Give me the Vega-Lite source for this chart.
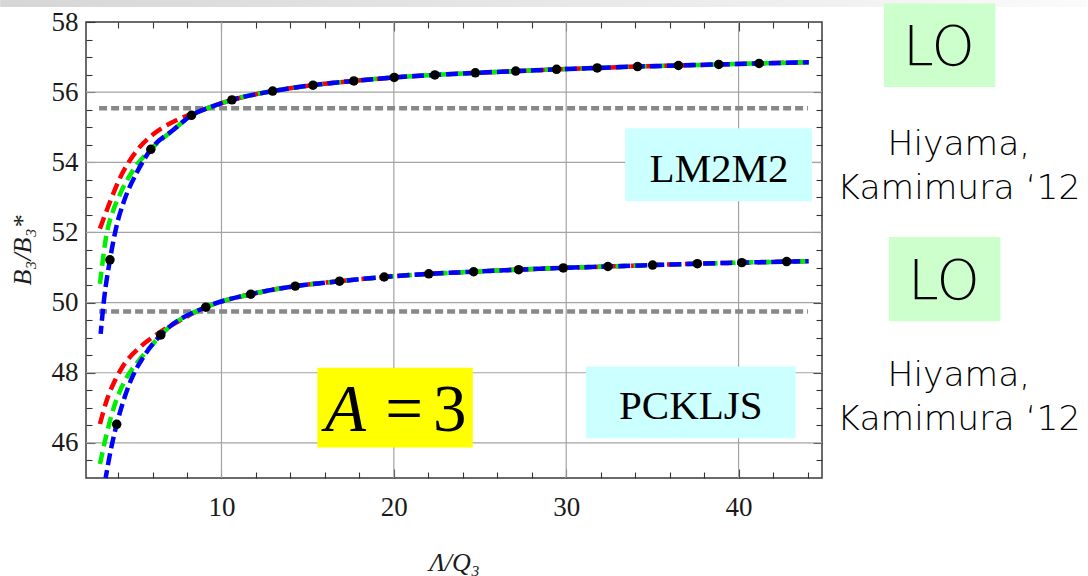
{
  "$schema": "https://vega.github.io/schema/vega-lite/v6.json",
  "width": 736,
  "height": 456,
  "autosize": {"type": "none"},
  "padding": {"left": 86, "top": 22, "right": 266, "bottom": 98},
  "background": "white",
  "config": {
    "view": {"stroke": "#3a3a3a", "strokeWidth": 1.5},
    "axis": {"domain": false, "grid": false, "tickColor": "#333333", "tickWidth": 1.1}
  },
  "datasets": {
    "gx": [{"x": 10}, {"x": 20}, {"x": 30}, {"x": 40}],
    "gy": [{"y": 46}, {"y": 48}, {"y": 50}, {"y": 52}, {"y": 54}, {"y": 56}],
    "ref": [
      {"model": "LM2M2", "x": 2.9, "x2": 44.03, "y": 55.54},
      {"model": "PCKLJS", "x": 2.9, "x2": 44.03, "y": 49.75}
    ],
    "red": [
      {"model": "LM2M2", "x": 2.95, "y": 52.11}, {"model": "LM2M2", "x": 3.58, "y": 52.93}, {"model": "LM2M2", "x": 4.11, "y": 53.55},
      {"model": "LM2M2", "x": 5.08, "y": 54.33}, {"model": "LM2M2", "x": 6.04, "y": 54.8}, {"model": "LM2M2", "x": 7.39, "y": 55.2},
      {"model": "LM2M2", "x": 8.74, "y": 55.46}, {"model": "LM2M2", "x": 10.61, "y": 55.78}, {"model": "LM2M2", "x": 12.97, "y": 56.03},
      {"model": "LM2M2", "x": 15.31, "y": 56.2}, {"model": "LM2M2", "x": 17.68, "y": 56.32}, {"model": "LM2M2", "x": 20.02, "y": 56.42},
      {"model": "LM2M2", "x": 22.38, "y": 56.49}, {"model": "LM2M2", "x": 24.73, "y": 56.55}, {"model": "LM2M2", "x": 27.07, "y": 56.6},
      {"model": "LM2M2", "x": 29.44, "y": 56.65}, {"model": "LM2M2", "x": 31.8, "y": 56.69}, {"model": "LM2M2", "x": 34.14, "y": 56.73},
      {"model": "LM2M2", "x": 36.51, "y": 56.76}, {"model": "LM2M2", "x": 38.85, "y": 56.79}, {"model": "LM2M2", "x": 41.19, "y": 56.82},
      {"model": "LM2M2", "x": 44.07, "y": 56.85},
      {"model": "PCKLJS", "x": 2.95, "y": 46.54}, {"model": "PCKLJS", "x": 3.34, "y": 47.21}, {"model": "PCKLJS", "x": 3.82, "y": 47.78},
      {"model": "PCKLJS", "x": 4.3, "y": 48.2}, {"model": "PCKLJS", "x": 5.27, "y": 48.73}, {"model": "PCKLJS", "x": 6.23, "y": 49.09},
      {"model": "PCKLJS", "x": 7.58, "y": 49.49}, {"model": "PCKLJS", "x": 9.09, "y": 49.87}, {"model": "PCKLJS", "x": 11.7, "y": 50.24},
      {"model": "PCKLJS", "x": 14.28, "y": 50.47}, {"model": "PCKLJS", "x": 16.85, "y": 50.61}, {"model": "PCKLJS", "x": 19.44, "y": 50.73},
      {"model": "PCKLJS", "x": 22.03, "y": 50.82}, {"model": "PCKLJS", "x": 24.63, "y": 50.88}, {"model": "PCKLJS", "x": 27.24, "y": 50.94},
      {"model": "PCKLJS", "x": 29.83, "y": 50.99}, {"model": "PCKLJS", "x": 32.42, "y": 51.03}, {"model": "PCKLJS", "x": 35.01, "y": 51.07},
      {"model": "PCKLJS", "x": 37.61, "y": 51.11}, {"model": "PCKLJS", "x": 40.19, "y": 51.14}, {"model": "PCKLJS", "x": 42.79, "y": 51.17},
      {"model": "PCKLJS", "x": 44.07, "y": 51.18}
    ],
    "green": [
      {"model": "LM2M2", "x": 2.95, "y": 50.54}, {"model": "LM2M2", "x": 3.34, "y": 51.97}, {"model": "LM2M2", "x": 3.7, "y": 52.6},
      {"model": "LM2M2", "x": 4.1, "y": 53.08}, {"model": "LM2M2", "x": 4.88, "y": 53.78}, {"model": "LM2M2", "x": 5.9, "y": 54.37},
      {"model": "LM2M2", "x": 7.2, "y": 54.92}, {"model": "LM2M2", "x": 8.26, "y": 55.34}, {"model": "LM2M2", "x": 9.51, "y": 55.6},
      {"model": "LM2M2", "x": 10.61, "y": 55.78}, {"model": "LM2M2", "x": 12.97, "y": 56.03},
      {"model": "LM2M2", "x": 15.31, "y": 56.2}, {"model": "LM2M2", "x": 17.68, "y": 56.32}, {"model": "LM2M2", "x": 20.02, "y": 56.42},
      {"model": "LM2M2", "x": 22.38, "y": 56.49}, {"model": "LM2M2", "x": 24.73, "y": 56.55}, {"model": "LM2M2", "x": 27.07, "y": 56.6},
      {"model": "LM2M2", "x": 29.44, "y": 56.65}, {"model": "LM2M2", "x": 31.8, "y": 56.69}, {"model": "LM2M2", "x": 34.14, "y": 56.73},
      {"model": "LM2M2", "x": 36.51, "y": 56.76}, {"model": "LM2M2", "x": 38.85, "y": 56.79}, {"model": "LM2M2", "x": 41.19, "y": 56.82},
      {"model": "LM2M2", "x": 44.07, "y": 56.85},
      {"model": "PCKLJS", "x": 2.95, "y": 45.4}, {"model": "PCKLJS", "x": 3.34, "y": 46.26}, {"model": "PCKLJS", "x": 3.82, "y": 47.11},
      {"model": "PCKLJS", "x": 4.4, "y": 47.78}, {"model": "PCKLJS", "x": 5.08, "y": 48.27}, {"model": "PCKLJS", "x": 5.85, "y": 48.72},
      {"model": "PCKLJS", "x": 6.48, "y": 49.08}, {"model": "PCKLJS", "x": 9.09, "y": 49.87}, {"model": "PCKLJS", "x": 11.7, "y": 50.24},
      {"model": "PCKLJS", "x": 14.28, "y": 50.47}, {"model": "PCKLJS", "x": 16.85, "y": 50.61}, {"model": "PCKLJS", "x": 19.44, "y": 50.73},
      {"model": "PCKLJS", "x": 22.03, "y": 50.82}, {"model": "PCKLJS", "x": 24.63, "y": 50.88}, {"model": "PCKLJS", "x": 27.24, "y": 50.94},
      {"model": "PCKLJS", "x": 29.83, "y": 50.99}, {"model": "PCKLJS", "x": 32.42, "y": 51.03}, {"model": "PCKLJS", "x": 35.01, "y": 51.07},
      {"model": "PCKLJS", "x": 37.61, "y": 51.11}, {"model": "PCKLJS", "x": 40.19, "y": 51.14}, {"model": "PCKLJS", "x": 42.79, "y": 51.17},
      {"model": "PCKLJS", "x": 44.07, "y": 51.18}
    ],
    "blue": [
      {"model": "LM2M2", "x": 2.99, "y": 49.11}, {"model": "LM2M2", "x": 3.18, "y": 50.06}, {"model": "LM2M2", "x": 3.53, "y": 51.22},
      {"model": "LM2M2", "x": 3.92, "y": 52.2}, {"model": "LM2M2", "x": 4.35, "y": 52.9}, {"model": "LM2M2", "x": 5.08, "y": 53.7},
      {"model": "LM2M2", "x": 5.9, "y": 54.37}, {"model": "LM2M2", "x": 7.2, "y": 54.92}, {"model": "LM2M2", "x": 8.26, "y": 55.34},
      {"model": "LM2M2", "x": 9.51, "y": 55.6}, {"model": "LM2M2", "x": 10.61, "y": 55.78}, {"model": "LM2M2", "x": 12.97, "y": 56.03},
      {"model": "LM2M2", "x": 15.31, "y": 56.2}, {"model": "LM2M2", "x": 17.68, "y": 56.32}, {"model": "LM2M2", "x": 20.02, "y": 56.42},
      {"model": "LM2M2", "x": 22.38, "y": 56.49}, {"model": "LM2M2", "x": 24.73, "y": 56.55}, {"model": "LM2M2", "x": 27.07, "y": 56.6},
      {"model": "LM2M2", "x": 29.44, "y": 56.65}, {"model": "LM2M2", "x": 31.8, "y": 56.69}, {"model": "LM2M2", "x": 34.14, "y": 56.73},
      {"model": "LM2M2", "x": 36.51, "y": 56.76}, {"model": "LM2M2", "x": 38.85, "y": 56.79}, {"model": "LM2M2", "x": 41.19, "y": 56.82},
      {"model": "LM2M2", "x": 44.07, "y": 56.85},
      {"model": "PCKLJS", "x": 3.28, "y": 45.0}, {"model": "PCKLJS", "x": 3.53, "y": 45.68}, {"model": "PCKLJS", "x": 3.92, "y": 46.53},
      {"model": "PCKLJS", "x": 4.3, "y": 47.18}, {"model": "PCKLJS", "x": 4.79, "y": 47.84}, {"model": "PCKLJS", "x": 5.46, "y": 48.44},
      {"model": "PCKLJS", "x": 6.48, "y": 49.08}, {"model": "PCKLJS", "x": 9.09, "y": 49.87}, {"model": "PCKLJS", "x": 11.7, "y": 50.24},
      {"model": "PCKLJS", "x": 14.28, "y": 50.47}, {"model": "PCKLJS", "x": 16.85, "y": 50.61}, {"model": "PCKLJS", "x": 19.44, "y": 50.73},
      {"model": "PCKLJS", "x": 22.03, "y": 50.82}, {"model": "PCKLJS", "x": 24.63, "y": 50.88}, {"model": "PCKLJS", "x": 27.24, "y": 50.94},
      {"model": "PCKLJS", "x": 29.83, "y": 50.99}, {"model": "PCKLJS", "x": 32.42, "y": 51.03}, {"model": "PCKLJS", "x": 35.01, "y": 51.07},
      {"model": "PCKLJS", "x": 37.61, "y": 51.11}, {"model": "PCKLJS", "x": 40.19, "y": 51.14}, {"model": "PCKLJS", "x": 42.79, "y": 51.17},
      {"model": "PCKLJS", "x": 44.07, "y": 51.18}
    ],
    "dots": [
      {"model": "LM2M2", "x": 3.53, "y": 51.22}, {"model": "LM2M2", "x": 5.9, "y": 54.37}, {"model": "LM2M2", "x": 8.26, "y": 55.34},
      {"model": "LM2M2", "x": 10.61, "y": 55.78}, {"model": "LM2M2", "x": 12.97, "y": 56.03}, {"model": "LM2M2", "x": 15.31, "y": 56.2},
      {"model": "LM2M2", "x": 17.68, "y": 56.32}, {"model": "LM2M2", "x": 20.02, "y": 56.42}, {"model": "LM2M2", "x": 22.38, "y": 56.49},
      {"model": "LM2M2", "x": 24.73, "y": 56.55}, {"model": "LM2M2", "x": 27.07, "y": 56.6}, {"model": "LM2M2", "x": 29.44, "y": 56.65},
      {"model": "LM2M2", "x": 31.8, "y": 56.69}, {"model": "LM2M2", "x": 34.14, "y": 56.73}, {"model": "LM2M2", "x": 36.51, "y": 56.76},
      {"model": "LM2M2", "x": 38.85, "y": 56.79}, {"model": "LM2M2", "x": 41.19, "y": 56.82},
      {"model": "PCKLJS", "x": 3.92, "y": 46.53}, {"model": "PCKLJS", "x": 6.48, "y": 49.08}, {"model": "PCKLJS", "x": 9.09, "y": 49.87},
      {"model": "PCKLJS", "x": 11.7, "y": 50.24}, {"model": "PCKLJS", "x": 14.28, "y": 50.47}, {"model": "PCKLJS", "x": 16.85, "y": 50.61},
      {"model": "PCKLJS", "x": 19.44, "y": 50.73}, {"model": "PCKLJS", "x": 22.03, "y": 50.82}, {"model": "PCKLJS", "x": 24.63, "y": 50.88},
      {"model": "PCKLJS", "x": 27.24, "y": 50.94}, {"model": "PCKLJS", "x": 29.83, "y": 50.99}, {"model": "PCKLJS", "x": 32.42, "y": 51.03},
      {"model": "PCKLJS", "x": 35.01, "y": 51.07}, {"model": "PCKLJS", "x": 37.61, "y": 51.11}, {"model": "PCKLJS", "x": 40.19, "y": 51.14},
      {"model": "PCKLJS", "x": 42.79, "y": 51.17}
    ],
    "modelBoxes": [
      {"model": "LM2M2", "x": 33.42, "x2": 44.26, "y": 54.97, "y2": 52.89},
      {"model": "PCKLJS", "x": 31.14, "x2": 43.31, "y": 48.18, "y2": 46.13}
    ],
    "modelNames": [
      {"x": 38.87, "y": 53.43, "text": "LM2M2"},
      {"x": 37.23, "y": 46.68, "text": "PCKLJS"}
    ],
    "nucleusBox": [{"x": 15.56, "x2": 24.58, "y": 48.14, "y2": 45.87}],
    "nucleusA": [{"x": 17.2, "y": 46.35, "text": "A"}],
    "nucleusEq": [{"x": 20.6, "y": 46.35, "text": "="}, {"x": 23.25, "y": 46.35, "text": "3"}],
    "orderBoxes": [
      {"x": 48.43, "x2": 54.9, "y": 58.53, "y2": 56.15},
      {"x": 48.72, "x2": 55.19, "y": 51.87, "y2": 49.47}
    ],
    "orderNames": [
      {"x": 51.62, "y": 56.77, "text": "LO"},
      {"x": 51.91, "y": 50.11, "text": "LO"}
    ],
    "citations": [
      {"x": 52.78, "y": 54.2, "text": "Hiyama,"},
      {"x": 52.78, "y": 52.95, "text": "Kamimura ‘12"},
      {"x": 52.78, "y": 47.63, "text": "Hiyama,"},
      {"x": 52.78, "y": 46.37, "text": "Kamimura ‘12"}
    ],
    "band": [{"x": -2.84, "x2": 60.19, "y": 58.628, "y2": 58.428}]
  },
  "layer": [
    {
      "data": {"name": "band"},
      "mark": {"type": "rect", "color": {"gradient": "linear", "x1": 0, "y1": 0, "x2": 1, "y2": 0, "stops": [{"offset": 0, "color": "#d6d6d6"}, {"offset": 0.7, "color": "#eeeeee"}, {"offset": 1, "color": "#fbfbfb"}]}},
      "encoding": {
        "x": {"field": "x", "type": "quantitative", "axis": null},
        "x2": {"field": "x2"},
        "y": {"field": "y", "type": "quantitative", "axis": null},
        "y2": {"field": "y2"}
      }
    },
    {
      "data": {"name": "gx"},
      "mark": {"type": "rule", "color": "#a3a3a3", "strokeWidth": 1.2},
      "encoding": {
        "x": {
          "field": "x", "type": "quantitative",
          "scale": {"domain": [2.14, 44.84], "nice": false, "zero": false},
          "axis": {"orient": "bottom", "values": [10, 20, 30, 40], "tickSize": -9, "labelPadding": 25, "labelFont": "Liberation Serif", "labelFontSize": 27, "labelColor": "#1a1a1a", "title": "Λ/Q₃", "titleFont": "Liberation Serif", "titleFontWeight": "normal", "titleColor": "#1a1a1a", "titleFontStyle": "italic", "titleFontSize": 26, "titlePadding": 29}
        }
      }
    },
    {
      "data": {"name": "gy"},
      "mark": {"type": "rule", "color": "#a3a3a3", "strokeWidth": 1.2},
      "encoding": {
        "y": {
          "field": "y", "type": "quantitative",
          "scale": {"domain": [45, 58], "nice": false, "zero": false},
          "axis": {"orient": "left", "values": [46, 48, 50, 52, 54, 56, 58], "tickSize": -9, "labelPadding": 17, "labelFont": "Liberation Serif", "labelFontSize": 27, "labelColor": "#1a1a1a", "title": "B₃/B₃*", "titleFont": "Liberation Serif", "titleFontWeight": "normal", "titleColor": "#1a1a1a", "titleFontStyle": "italic", "titleFontSize": 26, "titlePadding": 16}
        }
      }
    },
    {
      "data": {"name": "ref"},
      "mark": {"type": "rule", "color": "#888888", "strokeWidth": 4.5, "strokeDash": [8, 4]},
      "encoding": {
        "x": {"field": "x", "type": "quantitative", "axis": {"orient": "top", "values": [4, 6, 8, 12, 14, 16, 18, 22, 24, 26, 28, 32, 34, 36, 38, 42, 44], "tickSize": -6, "labels": false, "title": null}},
        "x2": {"field": "x2"},
        "y": {"field": "y", "type": "quantitative", "axis": {"orient": "right", "values": [45.5, 46.5, 47, 47.5, 48.5, 49, 49.5, 50.5, 51, 51.5, 52.5, 53, 53.5, 54.5, 55, 55.5, 56.5, 57, 57.5], "tickSize": -6, "labels": false, "title": null}}
      }
    },
    {
      "data": {"name": "red"},
      "mark": {"type": "line", "color": "#ff0000", "strokeWidth": 4.5, "strokeDash": [12, 6], "interpolate": "monotone"},
      "encoding": {
        "x": {"field": "x", "type": "quantitative", "axis": null},
        "y": {"field": "y", "type": "quantitative", "axis": null},
        "detail": {"field": "model"}
      }
    },
    {
      "data": {"name": "green"},
      "mark": {"type": "line", "color": "#00ee00", "strokeWidth": 4.5, "strokeDash": [12, 6], "interpolate": "monotone"},
      "encoding": {
        "x": {"field": "x", "type": "quantitative", "axis": null},
        "y": {"field": "y", "type": "quantitative", "axis": null},
        "detail": {"field": "model"}
      }
    },
    {
      "data": {"name": "blue"},
      "mark": {"type": "line", "color": "#0000ff", "strokeWidth": 4.5, "strokeDash": [12, 5], "strokeDashOffset": 4, "interpolate": "monotone"},
      "encoding": {
        "x": {"field": "x", "type": "quantitative", "axis": {"orient": "top", "values": [10, 20, 30, 40], "tickSize": -9, "labels": false, "title": null}},
        "y": {"field": "y", "type": "quantitative", "axis": {"orient": "right", "values": [46, 48, 50, 52, 54, 56], "tickSize": -9, "labels": false, "title": null}},
        "detail": {"field": "model"}
      }
    },
    {
      "data": {"name": "dots"},
      "mark": {"type": "point", "filled": true, "color": "#000000", "size": 90, "opacity": 1},
      "encoding": {
        "x": {"field": "x", "type": "quantitative", "axis": {"orient": "bottom", "values": [4, 6, 8, 12, 14, 16, 18, 22, 24, 26, 28, 32, 34, 36, 38, 42, 44], "tickSize": -6, "labels": false, "title": null}},
        "y": {"field": "y", "type": "quantitative", "axis": {"orient": "left", "values": [45.5, 46.5, 47, 47.5, 48.5, 49, 49.5, 50.5, 51, 51.5, 52.5, 53, 53.5, 54.5, 55, 55.5, 56.5, 57, 57.5], "tickSize": -6, "labels": false, "title": null}}
      }
    },
    {
      "data": {"name": "modelBoxes"},
      "mark": {"type": "rect", "color": "#ccffff"},
      "encoding": {
        "x": {"field": "x", "type": "quantitative", "axis": null},
        "x2": {"field": "x2"},
        "y": {"field": "y", "type": "quantitative", "axis": null},
        "y2": {"field": "y2"}
      }
    },
    {
      "data": {"name": "modelNames"},
      "mark": {"type": "text", "font": "Liberation Serif", "fontSize": 41, "color": "#000000", "align": "center", "baseline": "alphabetic"},
      "encoding": {
        "x": {"field": "x", "type": "quantitative", "axis": null},
        "y": {"field": "y", "type": "quantitative", "axis": null},
        "text": {"field": "text"}
      }
    },
    {
      "data": {"name": "nucleusBox"},
      "mark": {"type": "rect", "color": "#ffff00"},
      "encoding": {
        "x": {"field": "x", "type": "quantitative", "axis": null},
        "x2": {"field": "x2"},
        "y": {"field": "y", "type": "quantitative", "axis": null},
        "y2": {"field": "y2"}
      }
    },
    {
      "data": {"name": "nucleusA"},
      "mark": {"type": "text", "font": "Liberation Serif", "fontStyle": "italic", "fontSize": 67, "color": "#000000", "align": "center", "baseline": "alphabetic"},
      "encoding": {
        "x": {"field": "x", "type": "quantitative", "axis": null},
        "y": {"field": "y", "type": "quantitative", "axis": null},
        "text": {"field": "text"}
      }
    },
    {
      "data": {"name": "nucleusEq"},
      "mark": {"type": "text", "font": "Liberation Serif", "fontSize": 67, "color": "#000000", "align": "center", "baseline": "alphabetic"},
      "encoding": {
        "x": {"field": "x", "type": "quantitative", "axis": null},
        "y": {"field": "y", "type": "quantitative", "axis": null},
        "text": {"field": "text"}
      }
    },
    {
      "data": {"name": "orderBoxes"},
      "mark": {"type": "rect", "color": "#ccffcc"},
      "encoding": {
        "x": {"field": "x", "type": "quantitative", "axis": null},
        "x2": {"field": "x2"},
        "y": {"field": "y", "type": "quantitative", "axis": null},
        "y2": {"field": "y2"}
      }
    },
    {
      "data": {"name": "orderNames"},
      "mark": {"type": "text", "font": "DejaVu Sans", "fontWeight": 200, "fontSize": 55, "color": "#000000", "align": "center", "baseline": "alphabetic"},
      "encoding": {
        "x": {"field": "x", "type": "quantitative", "axis": null},
        "y": {"field": "y", "type": "quantitative", "axis": null},
        "text": {"field": "text"}
      }
    },
    {
      "data": {"name": "citations"},
      "mark": {"type": "text", "font": "DejaVu Sans", "fontWeight": 200, "fontSize": 34.5, "color": "#000000", "align": "center", "baseline": "alphabetic"},
      "encoding": {
        "x": {"field": "x", "type": "quantitative", "axis": null},
        "y": {"field": "y", "type": "quantitative", "axis": null},
        "text": {"field": "text"}
      }
    }
  ],
  "resolve": {"axis": {"x": "independent", "y": "independent"}}
}
